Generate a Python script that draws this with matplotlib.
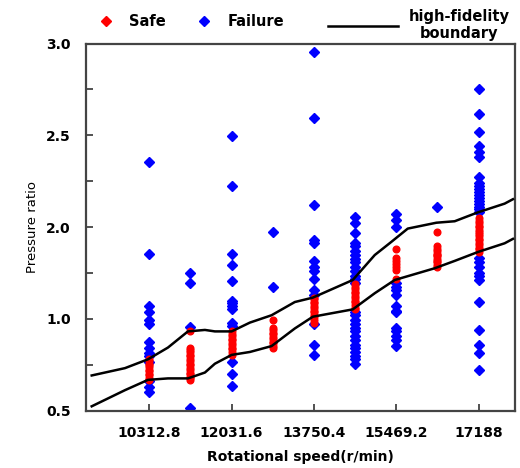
import numpy as np
import matplotlib
matplotlib.use("Agg")
import matplotlib.pyplot as plt
from matplotlib.lines import Line2D

# rotational speed columns (r/min)
speeds = [10312.8, 11172.2, 12031.6, 12891.0, 13750.4, 14609.8, 15469.2, 16328.6, 17188.0]

# failure samples per speed column
fail_vals = [
    [2.19, 1.57, 1.21, 1.17, 1.12, 1.09, 0.97, 0.93, 0.89, 0.87, 0.83, 0.70, 0.66, 0.63],
    [1.44, 1.37, 1.07, 0.52],
    [2.37, 2.03, 1.57, 1.49, 1.38, 1.25, 1.23, 1.21, 1.19, 1.10, 1.08, 0.83, 0.75, 0.67],
    [1.72, 1.34],
    [2.94, 2.49, 1.90, 1.66, 1.64, 1.52, 1.48, 1.45, 1.40, 1.32, 1.29, 1.09, 0.95, 0.88],
    [1.82, 1.78, 1.71, 1.64, 1.62, 1.59, 1.56, 1.53, 1.51, 1.48, 1.45, 1.42, 1.40, 1.37,
     1.17, 1.15, 1.12, 1.09, 1.06, 1.04, 1.01, 0.98, 0.95, 0.93, 0.90, 0.87, 0.85, 0.82],
    [1.84, 1.80, 1.75, 1.37, 1.34, 1.32, 1.29, 1.21, 1.18, 1.17, 1.06, 1.04, 1.01, 0.98, 0.94],
    [1.89],
    [2.69, 2.52, 2.40, 2.30, 2.26, 2.23, 2.09, 2.05, 2.03, 2.01, 1.99, 1.97, 1.95, 1.93,
     1.91, 1.89, 1.87, 1.85, 1.54, 1.51, 1.48, 1.44, 1.42, 1.39, 1.24, 1.05, 0.95, 0.89, 0.78],
]

# safe samples per speed column
safe_vals = [
    [0.85, 0.84, 0.82, 0.81, 0.80, 0.78, 0.77, 0.75, 0.74, 0.72, 0.71],
    [1.04, 0.93, 0.91, 0.90, 0.88, 0.87, 0.85, 0.84, 0.82, 0.81, 0.79, 0.78, 0.76, 0.75,
     0.73, 0.72, 0.71],
    [1.04, 1.02, 1.01, 0.99, 0.98, 0.96, 0.95, 0.93, 0.92, 0.90, 0.88],
    [1.12, 1.06, 1.05, 1.03, 1.02, 1.00, 0.99, 0.97, 0.96, 0.94, 0.93],
    [1.27, 1.26, 1.24, 1.23, 1.21, 1.20, 1.18, 1.17, 1.15, 1.14, 1.12, 1.10],
    [1.36, 1.34, 1.33, 1.31, 1.30, 1.28, 1.27, 1.25, 1.24, 1.22, 1.20, 1.19],
    [1.60, 1.54, 1.52, 1.50, 1.48, 1.46, 1.40],
    [1.72, 1.62, 1.60, 1.59, 1.57, 1.56, 1.55, 1.53, 1.52, 1.51, 1.49, 1.48],
    [1.81, 1.79, 1.78, 1.76, 1.75, 1.73, 1.72, 1.70, 1.69, 1.67, 1.66, 1.64, 1.63, 1.61,
     1.60, 1.58],
]

# high-fidelity boundary curves
upper_x = [9111, 9806, 10286, 10703, 11120, 11475, 11683, 12032, 12414, 12866, 13352,
           13728, 14562, 15021, 15369, 15710, 16308, 16690, 17170, 17733, 17906]
upper_y = [0.74, 0.79, 0.85, 0.93, 1.04, 1.05, 1.04, 1.04, 1.10, 1.15, 1.24,
           1.27, 1.39, 1.56, 1.65, 1.74, 1.78, 1.79, 1.85, 1.91, 1.94]
lower_x = [9111, 9806, 10286, 10703, 11120, 11475, 11683, 12032, 12414, 12866, 13352,
           13728, 14562, 15021, 15438, 16273, 16690, 17170, 17733, 17906]
lower_y = [0.53, 0.64, 0.71, 0.72, 0.72, 0.76, 0.82, 0.88, 0.90, 0.94, 1.06,
           1.14, 1.19, 1.30, 1.39, 1.47, 1.52, 1.58, 1.64, 1.67]

xtick_vals = [10312.8, 12031.6, 13750.4, 15469.2, 17188.0]
xtick_labels = ["10312.8", "12031.6", "13750.4", "15469.2", "17188"]
ytick_vals = [0.5, 0.8125, 1.125, 1.4375, 1.75, 2.0625, 2.375, 2.6875, 3.0]
ytick_labels = ["0.5", "", "1.0", "", "2.0", "", "2.5", "", "3.0"]

fx = np.concatenate([[s] * len(v) for s, v in zip(speeds, fail_vals)])
fy = np.concatenate(fail_vals)
sx = np.concatenate([[s] * len(v) for s, v in zip(speeds, safe_vals)])
sy = np.concatenate(safe_vals)

fig = plt.figure(figsize=(5.2, 4.68), dpi=100)
ax = fig.add_axes([0.1654, 0.1224, 0.8246, 0.7846])

ax.plot(fx, fy, "D", color="#0000ff", ms=5.4, mec="#0000ff", zorder=2)
ax.plot(sx, sy, "o", color="#ff0000", ms=4.8, mec="#ff0000", zorder=3)
ax.plot(upper_x, upper_y, color="black", lw=1.8, zorder=4)
ax.plot(lower_x, lower_y, color="black", lw=1.8, zorder=4)

ax.set_xlim(8992, 17945)
ax.set_ylim(0.5, 3.0)
ax.set_xticks(xtick_vals)
ax.set_xticklabels(xtick_labels, fontweight="bold", fontsize=10)
ax.set_yticks(ytick_vals)
ax.set_yticklabels(ytick_labels, fontweight="bold", fontsize=10)
ax.tick_params(axis="both", direction="in", length=5, width=1.2, color="#333333")
ax.tick_params(axis="x", pad=11)
ax.tick_params(axis="y", pad=11)
for sp in ax.spines.values():
    sp.set_linewidth(1.6)
    sp.set_color("#444444")

ax.set_xlabel("Rotational speed(r/min)", fontweight="bold", fontsize=10, labelpad=7)
ax.set_ylabel("Pressure ratio", fontsize=9.5, labelpad=5)

# legend: markers and boundary line laid out in two pieces above the axes
leg_font = {"weight": "bold", "size": 10.5}
pt_handles = [
    Line2D([], [], ls="none", marker="D", color="#ff0000", ms=5),
    Line2D([], [], ls="none", marker="D", color="#0000ff", ms=5),
]
leg1 = fig.legend(pt_handles, ["Safe", "Failure"], loc="center left",
                  bbox_to_anchor=(0.19, 0.953), ncol=2, frameon=False, prop=leg_font,
                  handlelength=1.0, handletextpad=1.1, columnspacing=2.1,
                  borderpad=0, borderaxespad=0)
leg2 = fig.legend([Line2D([], [], color="black", lw=1.8)], ["high-fidelity\nboundary"],
                  loc="center left", bbox_to_anchor=(0.631, 0.947), frameon=False,
                  prop=leg_font, handlelength=4.8, handletextpad=0.7,
                  borderpad=0, borderaxespad=0)
for t in leg2.get_texts():
    t.set_multialignment("center")

fig.savefig("out.png", dpi=100)
